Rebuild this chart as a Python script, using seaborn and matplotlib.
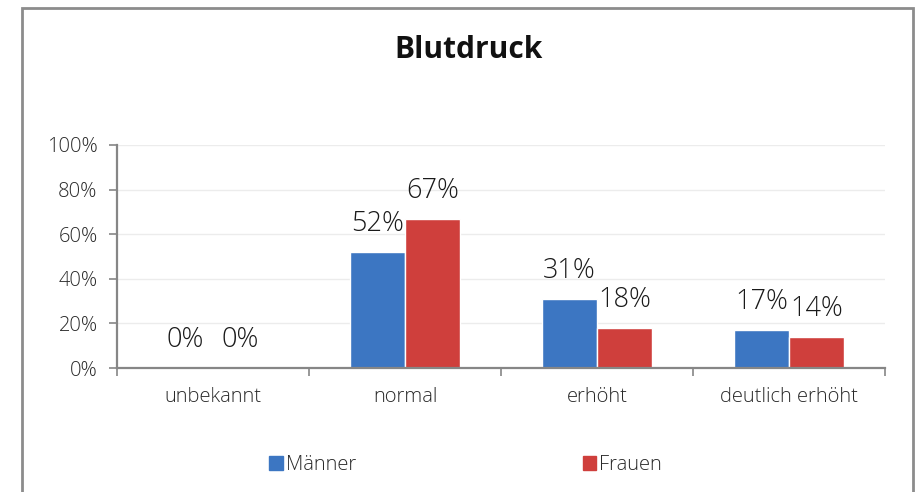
import seaborn as sns
import pandas as pd
import numpy as np
import matplotlib.pyplot as plt
from matplotlib.patches import Rectangle

categories = ['unbekannt', 'normal', 'erhöht', 'deutlich erhöht']
maenner = [0.00, 0.52, 0.31, 0.17]
frauen = [0.00, 0.67, 0.18, 0.14]
series = ['Männer', 'Frauen']
colors = ['#3c76c2', '#cf3f3c']

df = pd.DataFrame({
    'Kategorie': categories * 2,
    'Wert': maenner + frauen,
    'Gruppe': [series[0]] * 4 + [series[1]] * 4,
})

sns.set_style('white')
plt.rcParams['font.family'] = ['Open Sans', 'DejaVu Sans']
plt.rcParams['font.weight'] = 'light'

fig = plt.figure(figsize=(9.17, 4.92), dpi=100)
ax = fig.add_axes([0.1276, 0.252, 0.8375, 0.4533])

sns.barplot(data=df, x='Kategorie', y='Wert', hue='Gruppe', order=categories,
            hue_order=series, palette=colors, width=0.575, gap=0,
            saturation=1, ax=ax, legend=True)

for cont in ax.containers:
    labels = ['%d%%' % round(b.get_height() * 100) for b in cont]
    ax.bar_label(cont, labels=labels, padding=10, fontsize=19.5, color='#1a1a1a')

ax.set_ylim(0, 1)
ax.set_xlim(-0.5, 3.5)
ax.set_yticks(np.arange(0, 1.01, 0.2))
ax.set_yticklabels(['%d%%' % (v * 100) for v in np.arange(0, 1.01, 0.2)])
ax.yaxis.grid(True, color='#ececec', linewidth=1)
ax.set_axisbelow(True)
ax.set_xlabel('')
ax.set_ylabel('')
ax.set_xticks(np.arange(-0.5, 3.6, 1), minor=True)
ax.tick_params(axis='x', which='major', length=0, pad=14, labelsize=14.5, labelcolor='#2a2a2a')
ax.tick_params(axis='x', which='minor', length=6, color='#868686', width=1.2, bottom=True)
ax.tick_params(axis='y', length=6, color='#868686', width=1.2, left=True, pad=8,
               labelsize=14.5, labelcolor='#2a2a2a')
for s in ['top', 'right']:
    ax.spines[s].set_visible(False)
for s in ['left', 'bottom']:
    ax.spines[s].set_color('#868686')
    ax.spines[s].set_linewidth(1.6)

ax.get_legend().remove()
handles = [Rectangle((0, 0), 1, 1, color=c) for c in colors]
fig.legend(handles, series, loc='center', bbox_to_anchor=(0.508, 0.055), ncol=2,
           frameon=False, fontsize=14.5, handlelength=0.65, handleheight=0.65,
           handletextpad=0.15, columnspacing=11.3, labelcolor='#2a2a2a')

fig.text(0.511, 0.898, 'Blutdruck', ha='center', va='center', fontsize=21.5,
         fontweight='bold', color='#111111')

frame = Rectangle((22 / 917, -0.05), (913 - 22) / 917, 1.05 - 8 / 492,
                  transform=fig.transFigure, fill=False, edgecolor='#8c8c8c',
                  linewidth=2, clip_on=False)
fig.patches.append(frame)

fig.savefig('out.png', dpi=100)
